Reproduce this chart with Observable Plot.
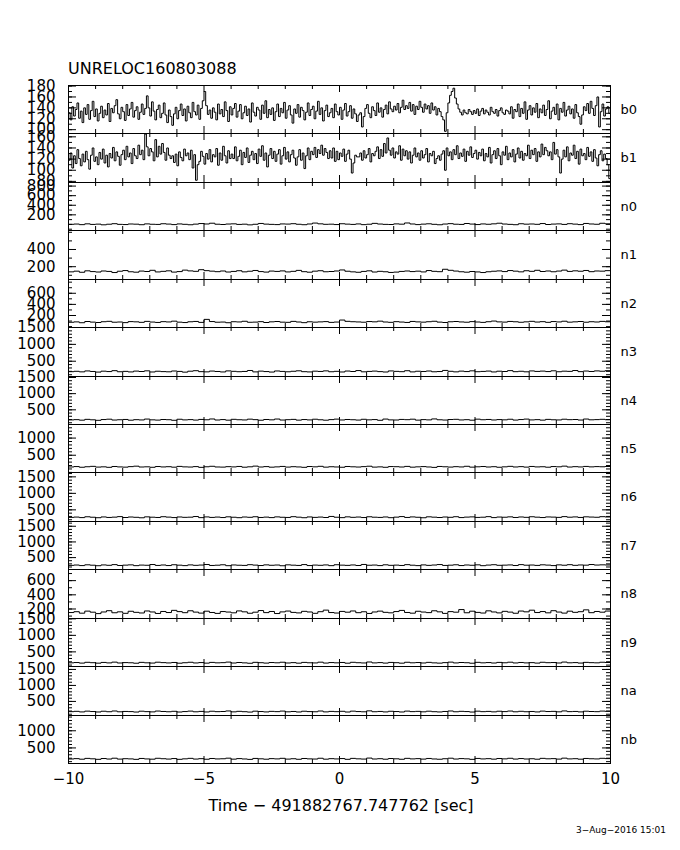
<!DOCTYPE html>
<html><head><meta charset="utf-8">
<script src="https://cdn.jsdelivr.net/npm/d3@7"></script>
<script src="https://cdn.jsdelivr.net/npm/@observablehq/plot@0.6"></script>
<style>
body{margin:0;background:#fff;}
#page{position:relative;width:680px;height:850px;font-family:"DejaVu Sans",sans-serif;color:#000;overflow:hidden;}
.t{position:absolute;white-space:nowrap;line-height:1;}
.panel{position:absolute;left:0;width:680px;}
.panel svg{overflow:visible;}
</style></head><body><div id="page"></div>
<script>
// ---- data ----
const titleText = "UNRELOC160803088";
const xAxisTitle = "Time − 491882767.747762 [sec]";
const dateText = "3−Aug−2016 15:01";
const panelNames = ["b0","b1","n0","n1","n2","n3","n4","n5","n6","n7","n8","n9","na","nb"];
const xDomain = [-10, 10];
const xLabelTicks = [-10, -5, 0, 5, 10];
const xMajorTicks = [-5, 0, 5];
const xMinorTicks = [-9,-8,-7,-6,-4,-3,-2,-1,1,2,3,4,6,7,8,9];
const binStart = -10;
const bBinWidth = 0.0625;
const nBinWidth = 0.2;

const b0 = [131,118,142,125,137,149,121,134,113,140,128,146,119,135,152,124,138,116,130,143,
122,136,127,148,115,139,131,144,155,129,120,141,133,117,146,126,138,150,123,135,
142,119,132,147,128,139,162,140,125,151,134,118,137,145,122,130,149,127,113,136,
124,108,129,141,120,135,147,126,138,116,143,131,122,150,133,127,145,119,139,153,
170,144,128,136,121,140,132,118,147,129,137,124,151,135,115,142,127,139,148,123,
134,146,120,131,143,126,138,114,149,132,125,141,136,119,145,130,153,122,137,128,
140,117,133,147,124,139,131,150,121,136,144,127,112,138,130,146,123,141,135,118,
132,149,126,137,143,120,134,152,128,140,116,135,145,124,131,139,122,147,133,127,
141,119,136,148,125,133,144,121,138,129,115,127,131,105,124,139,146,130,122,142,
135,126,149,132,140,123,137,145,129,151,138,133,143,136,148,131,141,154,137,144,
139,150,134,146,128,143,137,152,141,132,147,138,144,130,149,136,142,127,139,133,
124,118,97,131,149,163,170,176,158,147,138,132,127,136,131,129,137,133,128,135,
130,138,126,134,139,129,136,132,127,141,133,130,137,125,135,140,131,128,136,134,
129,142,121,137,133,147,124,139,130,151,119,136,144,127,140,132,148,122,138,131,
145,126,137,153,120,134,141,128,147,118,139,132,150,125,136,143,129,138,121,146,
131,124,110,127,142,135,148,130,152,139,126,144,160,105,133,147,125,138,142,130];
const b1 = [118,131,104,126,112,137,121,108,129,115,134,119,102,127,140,116,124,110,132,120,
138,113,127,106,130,122,141,117,133,125,109,128,136,119,143,124,131,112,139,126,
121,145,128,136,119,165,142,126,139,133,117,155,124,143,129,148,132,118,140,127,
121,126,114,129,108,133,123,117,138,126,131,119,136,104,128,82,110,116,134,125,
111,130,120,137,115,128,124,139,109,131,118,143,126,113,135,121,129,121,142,117,
125,136,110,132,123,140,114,127,134,119,130,112,138,125,144,118,131,106,127,139,
121,134,116,129,137,111,126,141,120,133,115,128,136,122,109,124,137,118,131,103,
126,140,119,134,128,141,123,137,130,145,127,139,132,121,135,122,140,116,134,119,
131,125,138,116,129,136,120,95,113,127,124,124,131,118,135,122,128,139,115,130,
126,134,142,121,137,125,148,131,158,136,127,140,122,133,129,144,118,138,126,135,
120,133,113,127,140,124,131,118,135,122,128,139,115,130,126,134,112,121,126,118,
129,135,100,140,126,133,119,137,128,144,121,131,125,138,116,134,127,142,123,130,
136,120,132,126,138,117,130,124,141,113,128,135,121,139,126,110,133,127,143,119,
131,124,137,115,129,140,122,134,118,130,126,145,121,136,128,139,116,133,124,147,
128,141,135,126,133,119,150,129,137,124,95,120,136,124,142,117,131,127,145,121,
134,111,138,126,130,119,141,125,133,116,137,122,108,128,135,117,129,121,110,85];
const n0 = [2,8,-5,12,0,6,-8,4,15,1,-3,9,5,-6,11,3,0,14,7,-4,
10,2,-7,6,18,9,25,4,-2,8,12,0,5,-9,3,20,6,1,-4,10,
7,15,3,-6,9,28,12,2,5,-3,14,6,0,10,-5,4,22,8,1,-2,
11,5,30,9,-4,6,13,2,-7,8,16,4,0,19,7,-3,10,3,12,25,
8,1,-6,14,5,9,2,18,-2,7,11,0,15,6,-4,20,9,3,24,12];
const n1 = [140,148,135,152,143,138,150,145,132,147,155,141,136,149,144,158,139,146,152,137,
143,160,151,146,165,154,148,142,150,138,145,153,140,147,156,143,137,149,145,151,
139,146,157,142,136,148,153,141,144,150,162,147,140,135,145,152,138,146,141,133,
137,145,150,143,148,139,155,146,142,170,158,149,141,136,144,139,132,141,147,151,
143,155,148,140,153,146,158,144,150,141,149,160,145,152,147,156,142,150,148,154];
const n2 = [78,85,70,92,81,74,88,95,79,83,72,90,86,77,94,82,75,89,84,98,
80,73,87,93,76,130,91,79,82,70,88,84,96,78,81,89,74,86,92,80,
77,94,83,71,87,80,85,90,76,82,118,95,88,84,79,91,86,98,83,77,
89,82,75,93,85,80,88,96,81,74,87,92,84,79,90,83,76,88,100,85,
81,93,87,78,86,95,82,89,77,91,84,97,80,86,92,79,88,83,94,87];
const n3 = [190,201,185,212,196,178,205,193,220,188,199,183,207,195,215,181,203,192,186,210,
198,176,204,219,191,185,208,196,182,213,200,189,197,225,184,206,193,179,211,198,
187,202,216,190,183,205,197,214,188,200,181,209,195,223,186,198,207,192,180,212,
199,190,218,184,203,196,210,187,194,227,201,185,206,193,215,189,198,208,182,204,
195,221,190,202,186,212,198,207,193,216,188,205,199,224,191,209,196,213,203,219];
const n4 = [188,196,180,205,191,175,199,210,184,193,202,179,195,187,214,190,182,200,194,176,
208,189,197,183,203,192,217,185,198,180,206,193,187,211,196,178,201,190,215,184,
195,204,181,199,188,209,192,179,197,212,186,201,193,183,207,190,198,176,214,189,
185,203,195,210,181,197,189,218,192,184,200,206,187,195,179,211,193,202,186,198,
190,208,183,199,213,188,196,181,204,192,187,209,195,200,184,215,191,197,206,193];
const n5 = [158,170,150,165,176,155,162,148,172,160,153,168,181,157,163,149,171,159,166,152,
175,161,156,169,147,164,178,158,154,167,160,173,151,163,183,157,169,152,161,174,
155,166,159,148,171,162,177,153,165,158,150,172,163,156,168,180,154,161,149,170,
166,157,175,152,162,169,158,146,173,164,155,167,159,178,153,163,171,157,166,150,
162,176,158,168,154,173,160,165,151,170,163,182,156,167,159,174,161,169,164,172];
const n6 = [272,281,265,290,276,262,285,270,279,295,268,283,274,260,288,277,269,292,280,266,
284,273,278,298,264,286,271,281,267,289,276,263,283,274,291,269,280,265,287,275,
270,293,278,262,285,272,281,268,300,276,264,288,273,282,267,290,277,271,284,263,
279,296,270,286,275,261,289,278,268,283,274,292,266,280,287,271,277,294,265,282,
276,288,269,284,273,291,278,267,285,280,272,295,277,286,270,289,281,275,293,284];
const n7 = [252,263,245,270,257,241,266,254,276,248,259,268,243,261,255,279,250,264,246,272,
258,244,267,253,262,280,249,257,271,242,265,256,251,274,260,247,268,255,263,240,
269,258,250,277,246,261,254,266,243,272,259,252,265,248,281,256,262,245,270,253,
260,249,275,257,244,267,252,263,278,250,258,271,246,264,255,269,242,261,273,254,
259,266,248,276,257,263,251,270,260,245,268,256,274,253,265,258,279,262,269,264];
const n8 = [150,162,141,170,155,135,158,176,147,160,139,168,153,144,172,158,137,165,150,181,
163,148,175,156,142,169,151,138,164,157,146,173,160,140,155,178,149,165,136,159,
171,152,145,167,158,139,162,184,150,143,166,155,172,148,161,137,158,170,153,146,
164,180,151,141,168,157,149,175,160,138,163,155,192,147,169,152,143,174,158,145,
167,156,140,171,160,183,150,164,146,176,157,142,169,153,162,188,148,165,155,171];
const n9 = [168,177,160,184,172,158,180,166,189,163,175,170,156,182,169,161,187,174,165,179,
157,171,185,164,176,159,181,168,173,190,162,178,167,155,183,172,160,177,169,186,
163,174,158,181,170,165,188,161,176,168,179,157,184,171,164,193,166,175,160,180,
172,158,185,169,177,163,182,167,159,174,189,165,178,171,156,183,168,176,162,181,
170,187,164,179,166,174,160,185,172,177,163,191,169,175,161,182,173,168,186,178];
const na = [180,190,172,196,184,170,193,178,201,176,187,182,168,194,181,173,199,186,177,191,
169,183,197,176,188,171,193,180,185,202,174,190,179,167,195,184,172,189,181,198,
175,186,170,193,182,177,200,173,188,180,191,169,196,183,176,205,178,187,172,192,
184,170,197,181,189,175,194,179,171,186,201,177,190,183,168,195,180,188,174,193,
182,199,176,191,178,186,172,197,184,189,175,203,181,187,173,194,185,180,198,190];
const nb = [178,188,171,195,183,168,191,176,200,174,186,180,167,193,179,172,198,185,175,190,
168,182,196,175,187,170,192,179,184,201,173,189,178,166,194,183,171,188,180,197,
174,185,169,192,181,176,199,172,187,179,190,168,195,182,175,204,177,186,171,191,
183,169,196,180,188,174,193,178,170,185,200,176,189,182,167,194,179,187,173,192,
181,198,175,190,177,185,171,196,183,188,174,202,180,186,172,193,184,179,197,189];

// y-axis ranges and tick labels per panel
const yDomains = [[93,181],[78,166],[-127,875],[51,621],[-16,848],[47,1500],[46,1530],[-3,1396],[147,1632],[120,1652],[66,757],[57,1510],[60,1592],[46,1445]];
const yLabelTicks = [
  [100,120,140,160,180],[80,100,120,140,160],[200,400,600,800],[200,400],[200,400,600],
  [500,1000,1500],[500,1000,1500],[500,1000],[500,1000,1500],[500,1000,1500],
  [200,400,600],[500,1000,1500],[500,1000,1500],[500,1000]];
const yMinorSteps = [10,10,100,100,100,100,100,100,100,100,100,100,100,100];

const series = [b0,b1,n0,n1,n2,n3,n4,n5,n6,n7,n8,n9,na,nb];
const binWidths = [bBinWidth,bBinWidth].concat(Array(12).fill(nBinWidth));

const fmt = d => d < 0 ? "\u2212" + (-d) : String(d);

// ---- layout ----
const page = document.getElementById("page");
const plotTop = 85, plotBottom = 763;
const nPanels = panelNames.length;
const bounds = d3.range(nPanels + 1).map(i => Math.round(plotTop + i * (plotBottom - plotTop) / nPanels));
const marginLeft = 68, marginRight = 70;
const innerW = 680 - marginLeft - marginRight;

function addText(txt, style) {
  const d = document.createElement("div");
  d.className = "t";
  d.textContent = txt;
  Object.assign(d.style, style);
  page.appendChild(d);
}

panelNames.forEach((name, i) => {
  const h = bounds[i + 1] - bounds[i];
  const vals = series[i];
  const w = binWidths[i];
  const rows = vals.map((v, k) => ({t: binStart + k * w, v}));
  rows.push({t: xDomain[1], v: vals[vals.length - 1]});
  const [lo, hi] = yDomains[i];
  const step = yMinorSteps[i];
  const minor = d3.range(Math.ceil(lo / step) * step, hi + 1e-9, step).filter(v => v > lo && v < hi);
  const major = yLabelTicks[i].filter(v => v > lo && v < hi);
  const last = i === nPanels - 1;
  const marks = [
    Plot.line(rows, {x: "t", y: "v", curve: "step-after", stroke: "#000", strokeWidth: 1, clip: true}),
    Plot.tickY(minor, {y: d => d, insetRight: innerW - 4, stroke: "#000"}),
    Plot.tickY(major, {y: d => d, insetRight: innerW - 8, stroke: "#000"}),
    Plot.tickY(minor, {y: d => d, insetLeft: innerW - 4, stroke: "#000"}),
    Plot.tickY(major, {y: d => d, insetLeft: innerW - 8, stroke: "#000"}),
    Plot.tickX(xMinorTicks, {x: d => d, insetBottom: h - 4, stroke: "#000"}),
    Plot.tickX(xMajorTicks, {x: d => d, insetBottom: h - 7, stroke: "#000"}),
    Plot.tickX(xMinorTicks, {x: d => d, insetTop: h - 4, stroke: "#000"}),
    Plot.tickX(xMajorTicks, {x: d => d, insetTop: h - 7, stroke: "#000"}),
    Plot.axisY(yLabelTicks[i], {anchor: "left", tickSize: 0, tickPadding: 13, fontSize: 15, label: null, fill: "#000", tickFormat: fmt}),
    Plot.text([name], {frameAnchor: "right", dx: 10, textAnchor: "start", fontSize: 13, fill: "#000"}),
    Plot.frame({stroke: "#000"})
  ];
  if (last) {
    marks.push(Plot.axisX(xLabelTicks, {anchor: "bottom", tickSize: 0, tickPadding: 10, fontSize: 15, label: null, fill: "#000", tickFormat: fmt}));
  }
  const chart = Plot.plot({
    width: 680, height: h,
    marginLeft, marginRight, marginTop: 0, marginBottom: 0,
    x: {domain: xDomain, axis: null},
    y: {domain: yDomains[i], axis: null},
    style: {overflow: "visible", fontFamily: "DejaVu Sans, sans-serif", color: "#000", background: "transparent"},
    marks
  });
  const holder = document.createElement("div");
  holder.className = "panel";
  holder.style.top = bounds[i] + "px";
  holder.style.height = h + "px";
  holder.appendChild(chart);
  page.appendChild(holder);
});

addText(titleText, {left: "68px", top: "61px", fontSize: "16px"});
addText(xAxisTitle, {left: "0px", width: "682px", textAlign: "center", top: "798px", fontSize: "16px"});
addText(dateText, {right: "14px", top: "826px", fontSize: "9px"});
</script></body></html>
